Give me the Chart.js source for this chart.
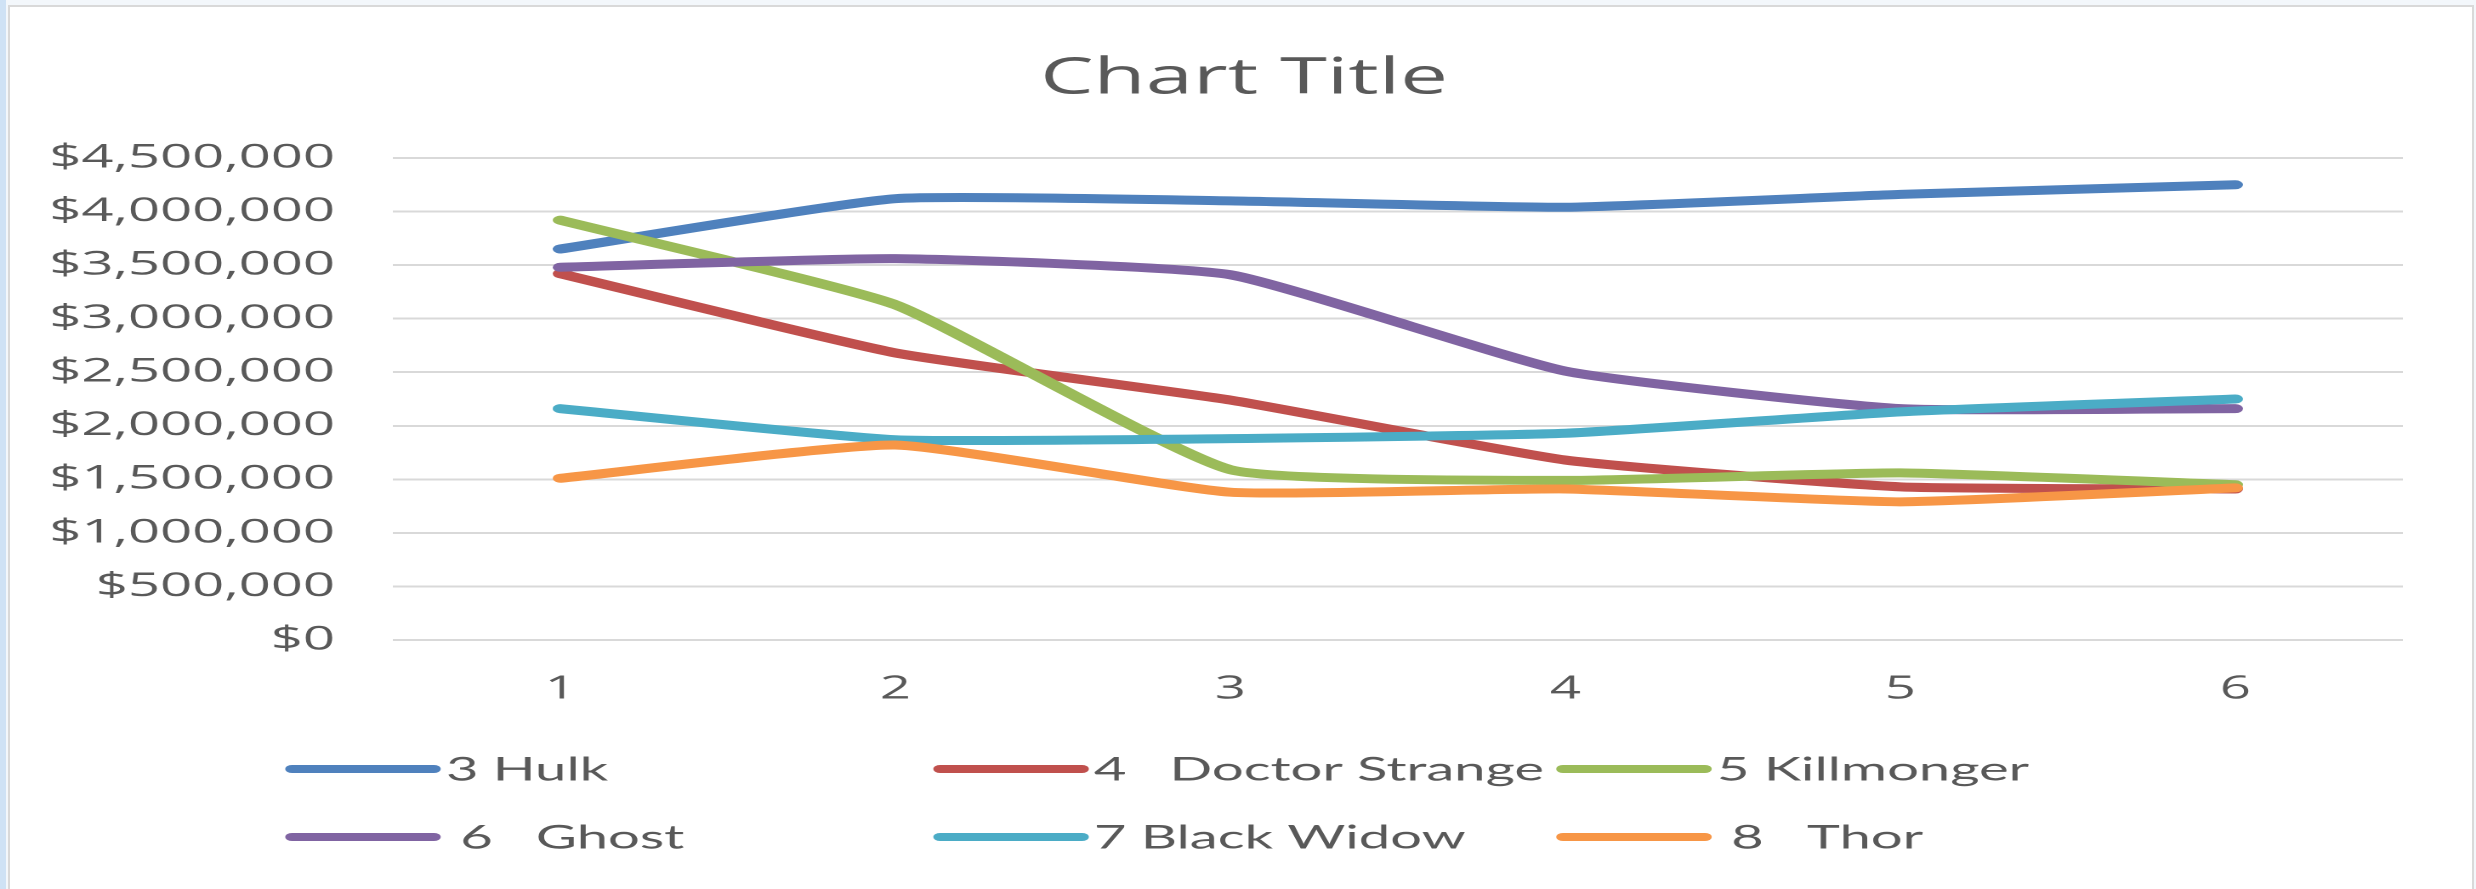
<!DOCTYPE html>
<html>
<head>
<meta charset="utf-8">
<script src="https://cdn.jsdelivr.net/npm/chart.js@4.4.1/dist/chart.umd.min.js"></script>
<style>
  html, body { margin: 0; padding: 0; overflow: hidden; background: #f3f7fb; }
  #edge { position: absolute; left: 0; top: 0; width: 6px; height: 889px; background: #cfe2f5; }
  #frame { position: absolute; left: 8px; top: 5px; width: 2466px; height: 884px; background: #fff;
           border: 2px solid #d9d9d9; border-bottom: none; box-sizing: border-box; }
  /* the reference is stretched sideways, so the chart is drawn narrow and widened */
  #holder { position: absolute; left: 0; top: 0; width: 1456px; height: 889px;
            transform: scaleX(1.70055); transform-origin: 0 0; }
</style>
</head>
<body>
<div id="edge"></div>
<div id="frame"></div>
<div id="holder"><canvas id="myChart"></canvas></div>
<script>
const categories = ['1', '2', '3', '4', '5', '6'];

const hulk          = [3650000, 4120000, 4100000, 4040000, 4160000, 4250000];
const doctorStrange = [3420000, 2680000, 2240000, 1680000, 1430000, 1410000];
const killmonger    = [3920000, 3130000, 1590000, 1490000, 1560000, 1450000];
const ghost         = [3480000, 3560000, 3410000, 2510000, 2160000, 2160000];
const blackWidow    = [2160000, 1870000, 1880000, 1930000, 2130000, 2250000];
const thor          = [1510000, 1820000, 1380000, 1410000, 1290000, 1420000];

const seriesNames = ['3 Hulk', '4   Doctor Strange', '5 Killmonger', ' 6   Ghost', '7 Black Widow', ' 8   Thor'];
const seriesValues = [hulk, doctorStrange, killmonger, ghost, blackWidow, thor];
const seriesColors = ['#4F81BD', '#C0504D', '#9BBB59', '#8064A2', '#4BACC6', '#F79646'];

const yTickValues = [0, 500000, 1000000, 1500000, 2000000, 2500000, 3000000, 3500000, 4000000, 4500000];

const textColor = '#595959';

// legend drawn in columns like the Excel one
const columnLegend = {
  id: 'columnLegend',
  afterDraw(chart) {
    const ctx = chart.ctx;
    const colX = [171.7, 552.8, 919.1];
    const rowY = [769, 837];
    const lineLen = 83.5;
    ctx.save();
    ctx.font = '33px Lato';
    ctx.textBaseline = 'middle';
    ctx.fillStyle = textColor;
    chart.data.datasets.forEach((ds, i) => {
      const x = colX[i % 3];
      const y = rowY[Math.floor(i / 3)];
      ctx.strokeStyle = ds.borderColor;
      ctx.lineWidth = 8;
      ctx.lineCap = 'round';
      ctx.beginPath();
      ctx.moveTo(x, y);
      ctx.lineTo(x + lineLen, y);
      ctx.stroke();
      ctx.fillText(ds.label, x + lineLen + 7, y + 1);
    });
    ctx.restore();
  }
};

const ctx = document.getElementById('myChart').getContext('2d');
const myChart = new Chart(ctx, {
  type: 'line',
  data: {
    labels: categories,
    datasets: seriesNames.map((name, i) => ({
      label: name,
      data: seriesValues[i],
      borderColor: seriesColors[i],
      backgroundColor: seriesColors[i],
      borderWidth: 9,
      borderCapStyle: 'round',
      borderJoinStyle: 'round',
      pointRadius: 0,
      tension: 0.15,
      order: seriesNames.length - i
    }))
  },
  options: {
    responsive: true,
    maintainAspectRatio: false,
    animation: false,
    devicePixelRatio: 2,
    layout: { padding: { left: 7, right: 0, top: 0, bottom: 0 } },
    plugins: {
      legend: { display: false },
      tooltip: { enabled: false },
      title: {
        display: true,
        text: 'Chart Title',
        color: textColor,
        font: { family: 'Open Sans', size: 50, weight: 'normal' },
        padding: { top: 49, bottom: 49 }
      }
    },
    scales: {
      x: {
        offset: true,
        grid: { display: false, drawTicks: false },
        border: { display: false },
        ticks: { color: textColor, font: { family: 'Open Sans', size: 32 }, padding: 30 },
        afterFit(scale) { scale.height = 889 - 640; }
      },
      y: {
        min: 0,
        max: 4500000,
        afterBuildTicks(scale) { scale.ticks = yTickValues.map(v => ({ value: v })); },
        grid: { color: '#d9d9d9', lineWidth: 2, drawTicks: false },
        border: { display: false },
        ticks: {
          color: textColor,
          font: { family: 'Open Sans', size: 33 },
          padding: 34,
          callback: v => '$' + Number(v).toLocaleString('en-US')
        },
        afterFit(scale) { scale.width = 224; }
      },
      // empty right-hand axis that only keeps the blank margin
      yRight: {
        position: 'right',
        min: 0,
        max: 4500000,
        grid: { display: false, drawTicks: false },
        border: { display: false },
        ticks: { display: false },
        afterFit(scale) { scale.width = 43; }
      }
    }
  },
  plugins: [columnLegend]
});
</script>
</body>
</html>
